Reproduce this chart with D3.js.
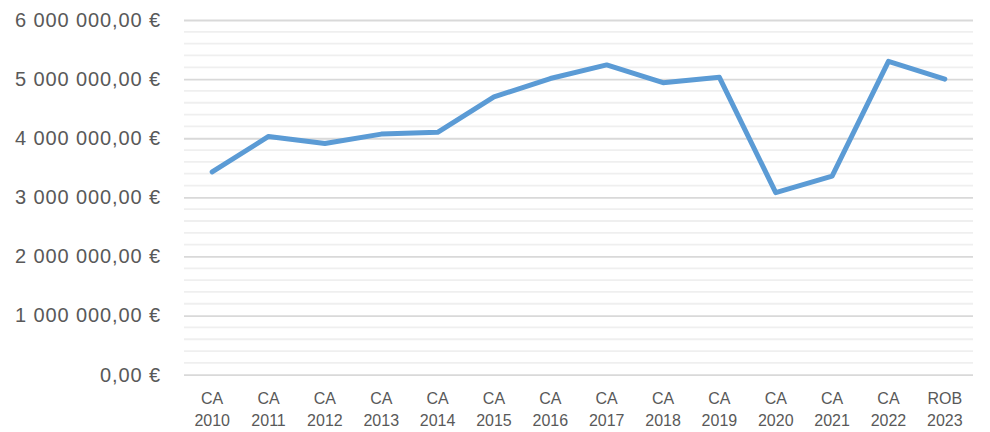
<!DOCTYPE html>
<html lang="fr">
<head>
<meta charset="utf-8">
<script src="https://cdn.jsdelivr.net/npm/d3@7"></script>
<style>
  html, body { margin: 0; padding: 0; background: #ffffff; }
  svg { display: block; }
  text { font-family: "Liberation Sans", Arial, sans-serif; fill: #595959; }
</style>
</head>
<body>
<svg id="chart" width="990" height="432"></svg>
<script>
// Budget par exercice (CA = compte administratif, ROB = rapport d'orientation budgétaire)
const categoryTop = ["CA", "CA", "CA", "CA", "CA", "CA", "CA", "CA", "CA", "CA", "CA", "CA", "CA", "ROB"];
const categoryYear = ["2010", "2011", "2012", "2013", "2014", "2015", "2016", "2017", "2018", "2019", "2020", "2021", "2022", "2023"];
const amounts = [3430000, 4030000, 3910000, 4070000, 4100000, 4700000, 5010000, 5240000, 4940000, 5030000, 3080000, 3360000, 5300000, 5000000];
const majorTicks = [0, 1000000, 2000000, 3000000, 4000000, 5000000, 6000000];

const svg = d3.select("#chart");
const plotLeft = 184, plotRight = 973, plotTop = 20, plotBottom = 374.7;

const x = d3.scaleBand()
  .domain(categoryYear)
  .range([plotLeft, plotRight]);

const y = d3.scaleLinear()
  .domain([0, 6000000])
  .range([plotBottom, plotTop]);

const frNumber = d3.formatLocale({ decimal: ",", thousands: "\u00a0", grouping: [3], currency: ["", " €"] });
const fmt = v => frNumber.format(",.2f")(v).replace(/\u00a0/g, " ") + " €";

// Minor gridlines every 200 000 €
const minorTicks = d3.range(0, 6000001, 200000).filter(v => v % 1000000 !== 0);
svg.append("g")
  .selectAll("line")
  .data(minorTicks)
  .join("line")
  .attr("x1", plotLeft).attr("x2", plotRight)
  .attr("y1", d => y(d)).attr("y2", d => y(d))
  .attr("stroke", "#efefef")
  .attr("stroke-width", 1.8);

// Major gridlines and labels via a left axis
const yAxis = svg.append("g")
  .attr("transform", `translate(${plotLeft},0)`)
  .call(d3.axisLeft(y).tickValues(majorTicks).tickSize(-(plotRight - plotLeft)).tickPadding(23).tickFormat(fmt));
yAxis.select(".domain").remove();
yAxis.selectAll(".tick line").attr("stroke", "#d9d9d9").attr("stroke-width", 1.8);
yAxis.selectAll(".tick text")
  .attr("fill", "#595959")
  .style("font-size", "20px")
  .style("letter-spacing", "0.9px")
  .style("font-family", "'Liberation Sans', Arial, sans-serif");

// Two-line category labels
const xLabels = svg.append("g")
  .selectAll("text")
  .data(categoryYear)
  .join("text")
  .attr("x", d => x(d) + x.bandwidth() / 2)
  .attr("text-anchor", "middle")
  .style("font-size", "16px");
xLabels.append("tspan")
  .attr("x", d => x(d) + x.bandwidth() / 2)
  .attr("y", 404)
  .text((d, i) => categoryTop[i]);
xLabels.append("tspan")
  .attr("x", d => x(d) + x.bandwidth() / 2)
  .attr("y", 425.5)
  .text(d => d);

// Series line
const line = d3.line()
  .x((d, i) => x(categoryYear[i]) + x.bandwidth() / 2)
  .y(d => y(d));

svg.append("path")
  .datum(amounts)
  .attr("d", line)
  .attr("fill", "none")
  .attr("stroke", "#5b9bd5")
  .attr("stroke-width", 5)
  .attr("stroke-linejoin", "round")
  .attr("stroke-linecap", "round");
</script>
</body>
</html>
